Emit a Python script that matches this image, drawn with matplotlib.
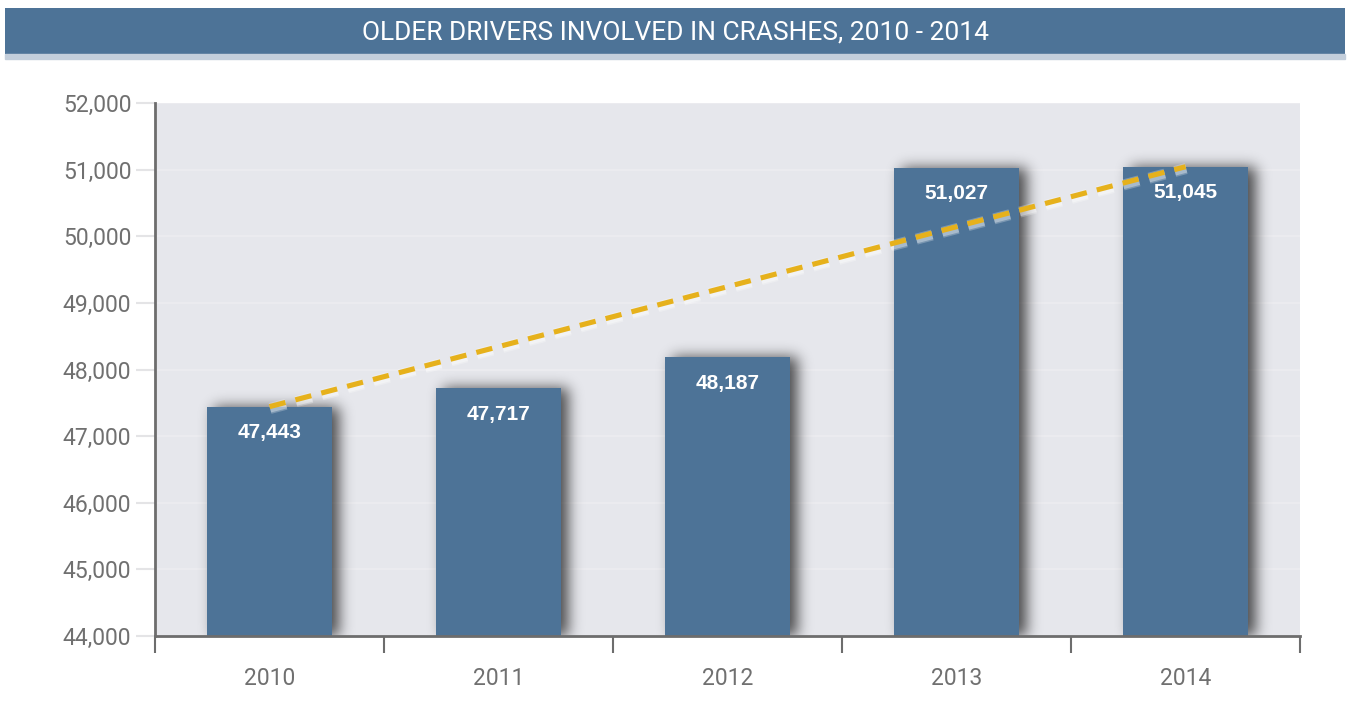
import numpy as np
import matplotlib.pyplot as plt
import matplotlib.patheffects as pe
from matplotlib.ticker import FuncFormatter, MultipleLocator

# Older drivers involved in crashes per year
years = ['2010', '2011', '2012', '2013', '2014']
drivers = [47443, 47717, 48187, 51027, 51045]

banner_blue = '#4d7397'
bar_blue = '#4d7397'
trend_gold = '#e6b11c'
panel_bg = '#e6e7ec'
narrow = ['Roboto', 'DejaVu Sans']


def gaussian_blur(img, sigma):
    r = int(3 * sigma)
    k = np.exp(-0.5 * (np.arange(-r, r + 1) / sigma) ** 2)
    k /= k.sum()
    out = np.apply_along_axis(lambda row: np.convolve(row, k, mode='same'), 1, img)
    out = np.apply_along_axis(lambda col: np.convolve(col, k, mode='same'), 0, out)
    return out


fig = plt.figure(figsize=(13.48, 7.26), dpi=100)

# title banner
banner = fig.add_axes([0.004, 0.925, 0.994, 0.064])
banner.set_facecolor(banner_blue)
banner.set_xticks([])
banner.set_yticks([])
for s in banner.spines.values():
    s.set_visible(False)
banner.text(0.5, 0.47, 'OLDER DRIVERS INVOLVED IN CRASHES, 2010 - 2014',
            ha='center', va='center', color='white', fontsize=19, family=narrow)
fig.add_artist(plt.Rectangle((0.004, 0.919), 0.994, 0.006,
                             transform=fig.transFigure, color='#c3cedb'))

ax = fig.add_axes([0.115, 0.124, 0.8495, 0.734])
ax.set_facecolor(panel_bg)

x = np.arange(len(years))
xlim = (-0.5, len(years) - 0.5)
ylim = (44000, 52000)
bar_w = 0.546

bars = ax.bar(x, drivers, width=bar_w, color=bar_blue, zorder=3, linewidth=0)

# soft drop shadow behind the bars
W, H = 1145, 533
gx = xlim[0] + (np.arange(W) + 0.5) / W * (xlim[1] - xlim[0])
gy = ylim[0] + (np.arange(H) + 0.5) / H * (ylim[1] - ylim[0])
GX, GY = np.meshgrid(gx, gy)
mask = np.zeros((H, W))
dx = 7 / W * (xlim[1] - xlim[0])
for b in bars:
    x0 = b.get_x() + dx
    mask[(GX >= x0) & (GX <= x0 + b.get_width()) & (GY <= b.get_height())] = 1.0
shade = gaussian_blur(np.pad(mask, ((0, 30), (0, 0)), mode='edge'), 7)[:H]
rgba = np.zeros((H, W, 4))
rgba[..., 3] = shade * 0.68
ax.imshow(rgba, extent=(*xlim, *ylim), origin='lower', aspect='auto',
          zorder=2, interpolation='bilinear')

for xi, v in zip(x, drivers):
    ax.text(xi, v - 390, f'{v:,}', ha='center', va='center', color='white',
            fontsize=15, fontweight='bold', family='Liberation Sans', zorder=5)

# dashed line from first year to last year, with a faint white glow
glow = [pe.Stroke(offset=(0.4, -1.3), linewidth=w, foreground='white', alpha=a)
        for w, a in ((8, 0.25), (6, 0.35))] + [pe.Normal()]
ax.plot([x[0], x[-1]], [drivers[0], drivers[-1]], color=trend_gold, lw=3.7,
        ls=(0, (3.2, 2.0)), zorder=4, dash_capstyle='butt', path_effects=glow)

ax.set_xlim(*xlim)
ax.set_ylim(*ylim)
ax.yaxis.set_major_locator(MultipleLocator(1000))
ax.yaxis.set_major_formatter(FuncFormatter(lambda v, p: f'{int(v):,}'))
ax.grid(axis='y', color='#ebebef', lw=1.5, zorder=0)
ax.set_axisbelow(True)

ax.set_xticks(x)
ax.set_xticklabels(years)
ax.set_xticks(np.arange(len(years) + 1) - 0.5, minor=True)
ax.tick_params(axis='x', which='major', length=0, pad=22)
ax.tick_params(axis='x', which='minor', length=12, width=1.5, color='#6d6d6d')
ax.tick_params(axis='y', length=14, width=1.5, color='#e4e4e6', pad=3)
for lbl in ax.get_xticklabels() + ax.get_yticklabels():
    lbl.set_family(narrow)
    lbl.set_fontsize(16.5)
    lbl.set_color('#707070')

for side in ('top', 'right'):
    ax.spines[side].set_visible(False)
for side in ('left', 'bottom'):
    ax.spines[side].set_color('#6d6d6d')
    ax.spines[side].set_linewidth(2)
    ax.spines[side].set_zorder(6)

fig.savefig('out.png', dpi=100)
